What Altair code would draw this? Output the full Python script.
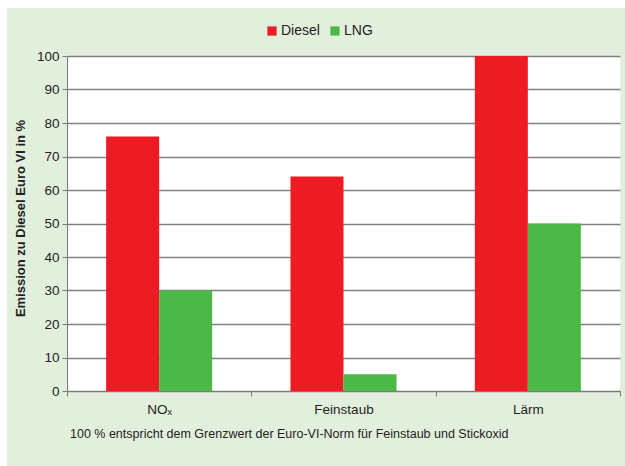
import altair as alt
import pandas as pd

categories = ["NOₓ", "Feinstaub", "Lärm"]
series = ["Diesel", "LNG"]
diesel = [76, 64, 100]
lng = [30, 5, 50]
y_ticks = [0, 10, 20, 30, 40, 50, 60, 70, 80, 90, 100]
footnote = "100 % entspricht dem Grenzwert der Euro-VI-Norm für Feinstaub und Stickoxid"

rows = []
for i, c in enumerate(categories):
    rows.append({"cat": c, "typ": "Diesel", "wert": diesel[i]})
    rows.append({"cat": c, "typ": "LNG", "wert": lng[i]})
df = pd.DataFrame(rows)

FONT = "Liberation Sans"

chart = alt.Chart(df).mark_bar().encode(
    x=alt.X("cat:N", sort=categories,
            scale=alt.Scale(paddingInner=0, paddingOuter=0),
            axis=alt.Axis(title=None, labelAngle=0, labelFontSize=13.5, labelColor="#222222",
                          labelFont=FONT, labelPadding=6, tickBand="extent", ticks=True,
                          tickSize=5, tickColor="#7a7a7a", domainColor="#7a7a7a", grid=False)),
    xOffset=alt.XOffset("typ:N", sort=series,
                        scale=alt.Scale(paddingInner=0, paddingOuter=0.7385)),
    y=alt.Y("wert:Q", scale=alt.Scale(domain=[0, 100], nice=False),
            axis=alt.Axis(title="Emission zu Diesel Euro VI in %", values=y_ticks,
                          titleFont=FONT, titleFontSize=13, titleFontWeight="bold",
                          titleColor="#222222", titleX=-40, titleY=162,
                          labelFont=FONT, labelFontSize=13.5, labelColor="#222222",
                          labelPadding=3, tickSize=5, tickColor="#7a7a7a",
                          domainColor="#7a7a7a", grid=True, gridColor="#808080",
                          gridWidth=1.3)),
    color=alt.Color("typ:N", sort=series,
                    scale=alt.Scale(domain=series, range=["#ED1C24", "#4CB848"]),
                    legend=alt.Legend(title=None, orient="none", direction="horizontal",
                                      legendX=198, legendY=-32, symbolType="square",
                                      symbolSize=85, symbolStrokeWidth=0, labelFont=FONT,
                                      labelFontSize=14, labelColor="#222222",
                                      labelOffset=2, columnPadding=8)),
).properties(
    width=553,
    height=335,
    title=alt.TitleParams(footnote, orient="bottom", anchor="start", frame="group",
                          font=FONT, fontSize=12.5, fontWeight="normal", color="#222222",
                          dx=3, offset=12),
).configure(
    background="#E3EFDD",
    padding={"left": 60, "top": 48, "right": 5, "bottom": 75},
    autosize=alt.AutoSizeParams(type="none"),
).configure_view(
    fill="white", stroke=None,
)

chart.save("out.html", embed_options={"renderer": "svg", "actions": False,
                                      "defaultStyle": "body{margin:0;padding:8px 0 0 7px;background:white;}"})
